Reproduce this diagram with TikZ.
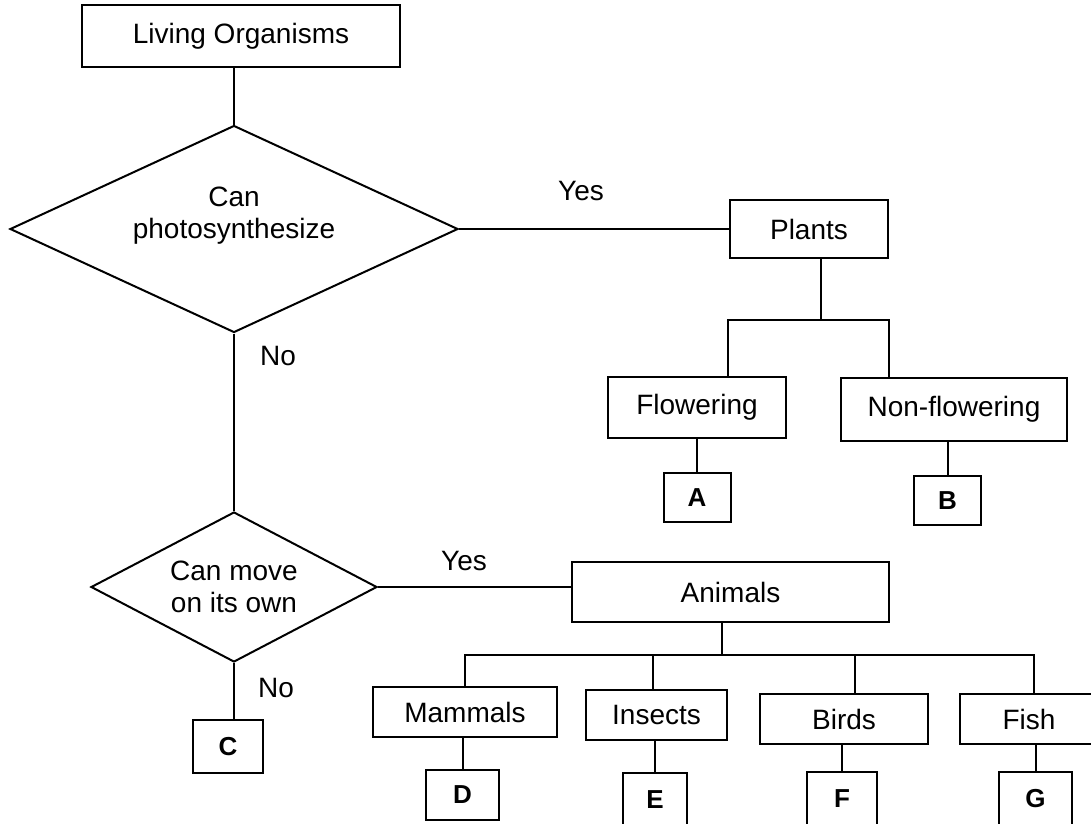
\documentclass[tikz,border=0pt]{standalone}
\usepackage{fontspec}
\setmainfont{Liberation Sans}
\usetikzlibrary{shapes.geometric}
\begin{document}
\begin{tikzpicture}[x=1pt,y=-1pt,
  every node/.style={font=\fontsize{28pt}{32pt}\selectfont, inner sep=0pt, align=center},
  box/.style={draw, line width=2pt, rectangle},
  keybox/.style={box, font=\fontsize{26pt}{30pt}\selectfont\bfseries},
  decision/.style={draw, line width=2pt, diamond},
  link/.style={line width=2pt}]
\useasboundingbox (0,0) rectangle (1091,823);
\fill[white] (0,0) rectangle (1091,823);
\clip (0,0) rectangle (1091,823);

% top of the key and first question
\node[box, minimum width=318pt, minimum height=62pt] (lo) at (241,36) {Living Organisms};
\node[decision, minimum width=448pt, minimum height=207pt] (d1) at (234,229) {};
\node (d1txt) at (234,216) {Can\\photosynthesize};
\node (yes1) at (581,191) {Yes};
\node (no1) at (278,356) {No};

% plant branch
\node[box, minimum width=158pt, minimum height=58pt] (plants) at (809,229) {Plants};
\node[box, minimum width=178pt, minimum height=61pt] (flow) at (697,407.5) {Flowering};
\node[box, minimum width=226pt, minimum height=63pt] (nonflow) at (954,409.5) {Non-flowering};
\node[keybox, minimum width=67pt, minimum height=49pt] (A) at (697,497.5) {A};
\node[keybox, minimum width=67pt, minimum height=49pt] (B) at (947.5,500.5) {B};

% second question
\node[decision, minimum width=286pt, minimum height=150pt] (d2) at (234,587) {};
\node (d2txt) at (234,587) {Can move\\on its own};
\node (yes2) at (464,561) {Yes};
\node (no2) at (276,688) {No};
\node[keybox, minimum width=70pt, minimum height=53pt] (C) at (228,746.5) {C};

% animal branch
\node[box, minimum width=317pt, minimum height=60pt] (animals) at (730.5,592) {Animals};
\node[box, minimum width=184pt, minimum height=50pt] (mammals) at (465,712) {Mammals};
\node[box, minimum width=141pt, minimum height=50pt] (insects) at (656.5,715) {Insects};
\node[box, minimum width=168pt, minimum height=50pt] (birds) at (844,719) {Birds};
\node[box, minimum width=138pt, minimum height=50pt] (fish) at (1029,719) {Fish};
\node[keybox, minimum width=73pt, minimum height=50pt] (D) at (462.5,795) {D};
\node[keybox, minimum width=64pt, minimum height=53pt] (E) at (655,799.5) {E};
\node[keybox, minimum width=70pt, minimum height=54pt] (F) at (842,799) {F};
\node[keybox, minimum width=73pt, minimum height=54pt] (G) at (1035.5,799) {G};

% connectors
\draw[link] (d1.north) -- (d1.north |- lo.south);
\draw[link] (d1.east) -- (d1.east -| plants.west);
\coordinate (pbar) at (821,320);
\draw[link] ([xshift=12pt]plants.south) -- (pbar);
\draw[link] ([xshift=31pt]flow.north) |- (pbar) -| ([xshift=-65pt]nonflow.north);
\draw[link] (flow.south) -- (A.north);
\draw[link] (B.north) -- (B.north |- nonflow.south);
\draw[link] (d1.south) -- (d2.north);
\draw[link] (d2.east) -- (d2.east -| animals.west);
\coordinate (abar) at (722,655);
\draw[link] ([xshift=-8.5pt]animals.south) -- (abar);
\draw[link] (mammals.north) |- (abar) -| ([xshift=5pt]fish.north);
\draw[link] ([xshift=-3.5pt]insects.north) -- ([xshift=-3.5pt]insects.north |- abar);
\draw[link] ([xshift=11pt]birds.north) -- ([xshift=11pt]birds.north |- abar);
\draw[link] (d2.south) -- (d2.south |- C.north);
\draw[link] (D.north) -- (D.north |- mammals.south);
\draw[link] (E.north) -- (E.north |- insects.south);
\draw[link] (F.north) -- (F.north |- birds.south);
\draw[link] (G.north) -- (G.north |- fish.south);
\end{tikzpicture}
\end{document}
